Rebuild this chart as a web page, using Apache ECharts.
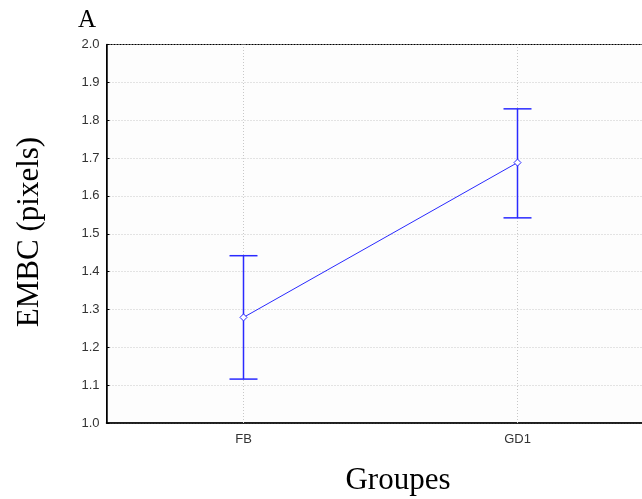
<!DOCTYPE html>
<html>
<head>
<meta charset="utf-8">
<script src="https://cdn.jsdelivr.net/npm/echarts@6/dist/echarts.min.js"></script>
<style>
  html, body { margin: 0; padding: 0; background: #fff; }
  #chart { width: 642px; height: 499px; }
</style>
</head>
<body>
<div id="chart"></div>
<script>
const groups = ['FB', 'GD1']
const means = [1.279, 1.688]
const lower = [1.116, 1.542]
const upper = [1.442, 1.830]

const chart = echarts.init(document.getElementById('chart'))

const blue = '#2a2aff'
const serif = '"Liberation Serif", "DejaVu Serif", serif'
const sans = '"Liberation Sans", Arial, sans-serif'
const dotted = { color: '#c8c8c8', type: [1, 2], width: 1 }

chart.setOption({
  animation: false,
  grid: {
    left: 106.5, top: 44.5, width: 548, height: 378.5,
    outerBoundsMode: 'none', containLabel: false,
    show: true, borderColor: '#000', borderWidth: 1, backgroundColor: '#fdfdfd'
  },
  xAxis: {
    type: 'category', data: groups, boundaryGap: true,
    axisLine: { lineStyle: { color: '#000', width: 1.5 } },
    axisTick: { alignWithLabel: true, inside: true, length: 4, lineStyle: { color: '#000' } },
    axisLabel: { color: '#333', fontFamily: sans, fontSize: 13, margin: 10 },
    splitLine: { show: false }
  },
  yAxis: {
    type: 'value', min: 1.0, max: 2.0, interval: 0.1,
    axisLine: { show: true, lineStyle: { color: '#000', width: 1.5 } },
    axisTick: { show: true, inside: true, length: 3, lineStyle: { color: '#000' } },
    axisLabel: { color: '#333', fontFamily: sans, fontSize: 13, margin: 7,
      formatter: v => v.toFixed(1) },
    splitLine: { lineStyle: dotted }
  },
  graphic: [
    { type: 'text', left: 78, top: 8,
      style: { text: 'A', font: '25px ' + serif, fill: '#000' } },
    { type: 'text', x: 30, y: 232, rotation: Math.PI / 2,
      style: { text: 'EMBC (pixels)', font: '31px ' + serif, fill: '#000',
        textAlign: 'center', textVerticalAlign: 'middle' } },
    { type: 'text', x: 398, y: 481,
      style: { text: 'Groupes', font: '31px ' + serif, fill: '#000',
        textAlign: 'center', textVerticalAlign: 'middle' } }
  ],
  series: [
    {
      type: 'custom',
      data: groups.map((g, i) => [i, lower[i], upper[i]]),
      renderItem(params, api) {
        const lo = api.coord([api.value(0), api.value(1)])
        const hi = api.coord([api.value(0), api.value(2)])
        const hw = 14
        const st = { stroke: blue, lineWidth: 1.5 }
        return {
          type: 'group',
          children: [
            { type: 'line', shape: { x1: hi[0], y1: hi[1], x2: lo[0], y2: lo[1] }, style: st },
            { type: 'line', shape: { x1: hi[0] - hw, y1: hi[1], x2: hi[0] + hw, y2: hi[1] }, style: st },
            { type: 'line', shape: { x1: lo[0] - hw, y1: lo[1], x2: lo[0] + hw, y2: lo[1] }, style: st }
          ]
        }
      },
      z: 2
    },
    {
      type: 'line', data: means,
      symbol: 'diamond', symbolSize: 7,
      lineStyle: { color: blue, width: 1 },
      itemStyle: { color: '#fff', borderColor: blue, borderWidth: 1 },
      markLine: {
        silent: true, symbol: ['none', 'none'], label: { show: false },
        lineStyle: dotted, z: 1,
        data: groups.map(g => ({ xAxis: g }))
      },
      z: 3
    }
  ]
})
</script>
</body>
</html>
